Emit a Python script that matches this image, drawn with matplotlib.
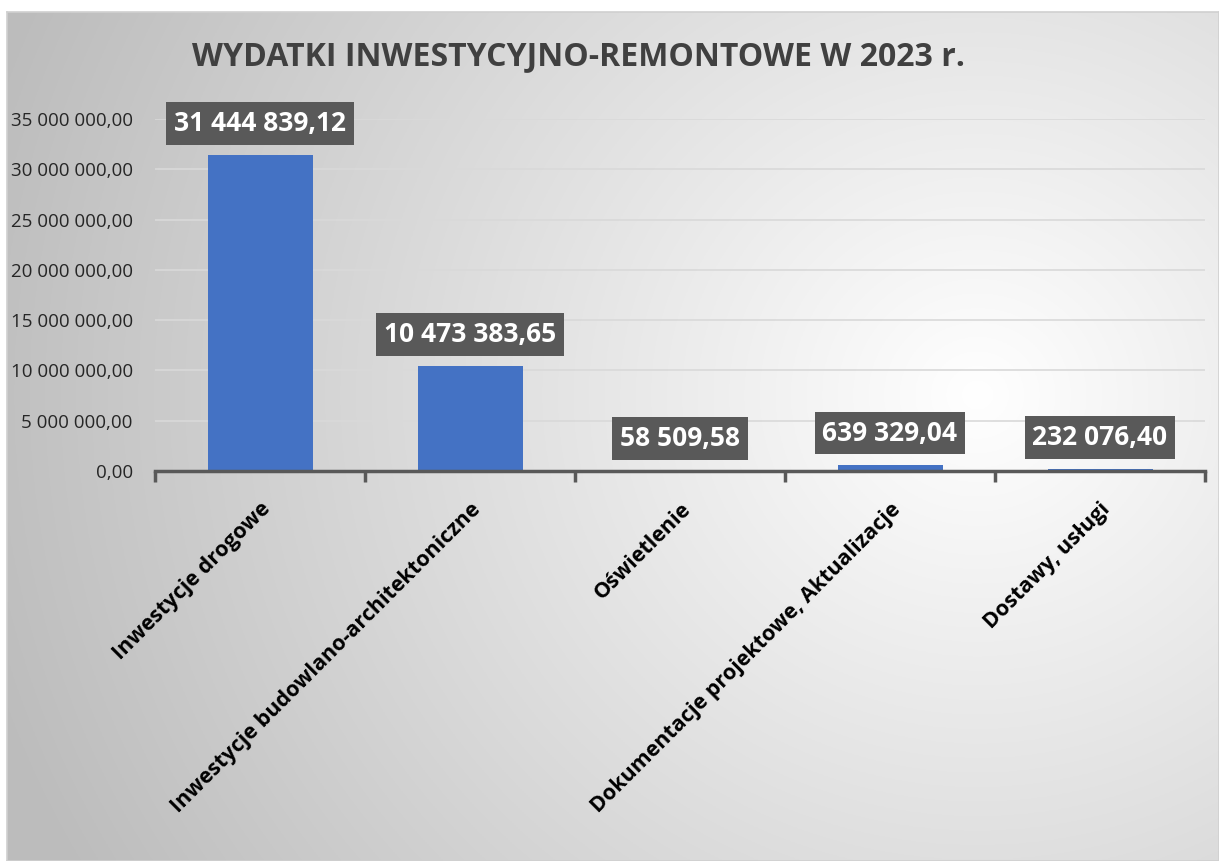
import numpy as np
import matplotlib
matplotlib.use("Agg")
import matplotlib.pyplot as plt
from matplotlib.ticker import FuncFormatter

# Data
categories = [
    "Inwestycje drogowe",
    "Inwestycje budowlano-architektoniczne",
    "Oświetlenie",
    "Dokumentacje projektowe, Aktualizacje",
    "Dostawy, usługi",
]
values = [31444839.12, 10473383.65, 58509.58, 639329.04, 232076.40]
title = "WYDATKI INWESTYCYJNO-REMONTOWE W 2023 r."

FONT = ["Open Sans", "DejaVu Sans"]
plt.rcParams["font.family"] = FONT


def pl_format(v, pos=None):
    # Polish style: space thousands separator, comma decimal
    s = f"{v:,.2f}"
    return s.replace(",", " ").replace(".", ",")


W, H = 1219, 861
fig = plt.figure(figsize=(W / 100, H / 100), dpi=100)
fig.patch.set_facecolor("white")

# Background panel with radial gradient
bg = fig.add_axes([7 / W, 0, 1 - 7 / W, 1 - 12 / H])
bg.set_zorder(0)
ny, nx = 400, 600
yy, xx = np.mgrid[0:ny, 0:nx]
cx, cy = 0.80 * nx, 0.45 * ny
r = np.sqrt(((xx - cx) / nx) ** 2 + ((yy - cy) / ny * 0.75) ** 2)
r = np.clip(r / 0.85, 0, 1)
shade = 1.0 - 0.26 * r
img = np.dstack([shade, shade, shade])
bg.imshow(img, aspect="auto", extent=[0, 1, 0, 1], origin="upper")
bg.set_xlim(0, 1)
bg.set_ylim(0, 1)
bg.set_xticks([])
bg.set_yticks([])
for sp in bg.spines.values():
    sp.set_color("#d0d0d0")
    sp.set_linewidth(1.2)

# Plot area
ax = fig.add_axes([155 / W, 1 - 471 / H, (1205 - 155) / W, (471 - 119) / H])
ax.set_zorder(1)
ax.patch.set_alpha(0)

x = np.arange(len(categories))
ax.bar(x, values, width=0.5, color="#4472C4", zorder=3)

ax.set_xlim(-0.5, len(categories) - 0.5)
ax.set_ylim(0, 35000000)
ax.set_yticks(np.arange(0, 35000001, 5000000))
ax.yaxis.set_major_formatter(FuncFormatter(pl_format))
ax.grid(axis="y", color="#d9d9d9", linewidth=1.2, zorder=0)
ax.set_axisbelow(True)

for side in ["top", "right", "left"]:
    ax.spines[side].set_visible(False)
ax.spines["bottom"].set_color("#595959")
ax.spines["bottom"].set_linewidth(2.5)
ax.spines["bottom"].set_zorder(4)

ax.tick_params(axis="y", length=0, labelsize=13.5, pad=16, labelcolor="#262626")
ax.set_xticks(x)
ax.set_xticklabels(categories, rotation=45, ha="right", rotation_mode="anchor",
                   fontsize=15.5, fontweight="bold", color="black")
ax.tick_params(axis="x", length=0, pad=20)
# category boundary ticks
ax.set_xticks(np.arange(-0.5, len(categories), 1.0), minor=True)
ax.tick_params(axis="x", which="minor", length=8, width=2.5, color="#595959", direction="out")

for xi, v in zip(x, values):
    ax.annotate(pl_format(v), xy=(xi, v), xytext=(0, 13), textcoords="offset points",
                ha="center", va="bottom", fontsize=19, fontweight="bold", color="white",
                bbox=dict(boxstyle="square,pad=0.3", fc="#595959", ec="none"), zorder=5)

fig.text(579 / W, 1 - 57 / H, title, ha="center", va="center", fontsize=23,
         fontweight="bold", color="#404040")

fig.savefig("out.png", dpi=100)
